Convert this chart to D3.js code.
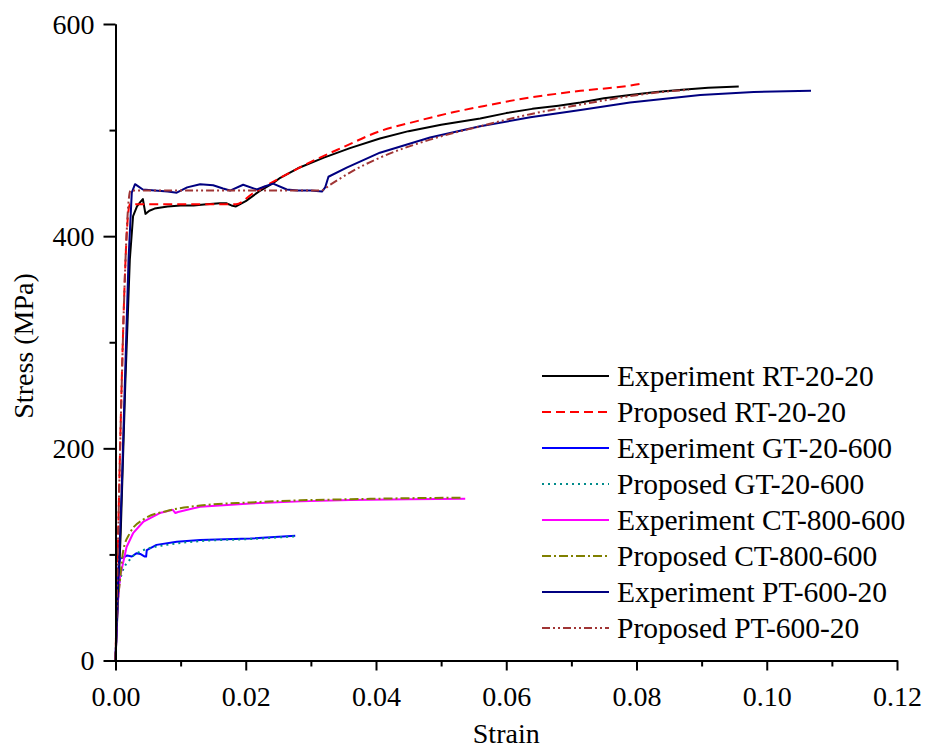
<!DOCTYPE html>
<html>
<head>
<meta charset="utf-8">
<script src="https://cdn.jsdelivr.net/npm/d3@7"></script>
<style>
  html, body { margin: 0; padding: 0; background: #fff; }
  svg text { font-family: "Liberation Serif", "DejaVu Serif", "Noto Serif", serif; }
</style>
</head>
<body>
<svg id="chart" width="929" height="752"></svg>
<script>
// Stress-strain curves: measured tests and the proposed model
const xTicks = [0, 0.02, 0.04, 0.06, 0.08, 0.10, 0.12];
const xMinorTicks = [0.01, 0.03, 0.05, 0.07, 0.09, 0.11];
const yTicks = [0, 200, 400, 600];
const yMinorTicks = [100, 300, 500];

// [strain, stress (MPa)]
const expRT = [[0,0],[0.0008,120],[0.0015,260],[0.0022,378],[0.0027,419],[0.0033,428],[0.0038,432],[0.0042,435],
  [0.0044,428],[0.0046,421],[0.0052,424],[0.006,426],[0.008,428],[0.010,429],[0.012,429],[0.014,430],[0.016,431],
  [0.017,431],[0.0178,429],[0.0185,428],[0.020,433],[0.022,442],[0.0242,450],[0.0253,455],[0.028,464],[0.032,474],
  [0.036,483],[0.0406,492],[0.045,499],[0.050,505],[0.056,511],[0.060,516],[0.064,520],[0.068,523],[0.0714,526],
  [0.075,530],[0.079,533],[0.083,536],[0.087,538],[0.091,540],[0.0957,541]];
const propRT = [[0,0],[0.0022,430],[0.0185,430],[0.021,440],[0.0253,455],[0.030,470],[0.035,484],[0.0406,499],
  [0.046,508],[0.052,517],[0.056,522],[0.062,529],[0.0714,537],[0.079,542],[0.0809,544]];
const expGT = [[0,0],[0.0003,60],[0.0005,90],[0.0007,96],[0.0012,97],[0.0018,99],[0.0025,98],[0.0032,101],
  [0.0038,100.5],[0.0045,98],[0.0047,98],[0.0048,104],[0.0063,109],[0.0094,112],[0.013,113.7],[0.0207,115],[0.0276,117.5]];
const propGT = [[0,0],[0.0004,60],[0.001,82.5],[0.0022,95],[0.0043,104],[0.0079,109],[0.013,112.5],[0.0207,114.5],[0.0276,117]];
const expCT = [[0,0],[0.0003,50],[0.0007,79],[0.0017,107],[0.0027,120],[0.0043,131],[0.0068,139],[0.0088,142],
  [0.0092,139],[0.0096,140],[0.013,145],[0.0207,148],[0.0284,150],[0.036,151.4],[0.045,152],[0.0537,152.5]];
const propCT = [[0,0],[0.0002,38],[0.0007,76],[0.0012,104],[0.0022,120],[0.0043,133],[0.0079,141],[0.013,146],
  [0.0207,149],[0.0284,151],[0.036,152],[0.045,153],[0.053,153.5]];
const expPT = [[0,0],[0.001,170],[0.002,378],[0.0025,441],[0.003,449],[0.0035,447],[0.0042,444],[0.006,443],
  [0.008,442],[0.0094,441],[0.011,446],[0.013,449],[0.015,448],[0.0165,445],[0.0176,443],[0.0196,448.5],
  [0.0217,444],[0.023,447],[0.0242,449.5],[0.0263,444],[0.028,443],[0.030,443],[0.0317,442],[0.0322,446],
  [0.0327,456],[0.0355,464.6],[0.0406,478.7],[0.0483,493],[0.056,503.6],[0.0637,512],[0.0714,519],[0.079,526],
  [0.0898,533],[0.098,536],[0.1068,537]];
const propPT = [[0,0],[0.0023,443],[0.0315,443],[0.033,448.6],[0.036,460],[0.0406,474],[0.0483,491],[0.056,503.6],
  [0.0637,515],[0.0714,524],[0.079,532],[0.084,536],[0.088,538]];

const seriesNames = ["Experiment RT-20-20","Proposed RT-20-20","Experiment GT-20-600","Proposed GT-20-600",
  "Experiment CT-800-600","Proposed CT-800-600","Experiment PT-600-20","Proposed PT-600-20"];
const seriesData = [expRT, propRT, expGT, propGT, expCT, propCT, expPT, propPT];
const seriesColors = ["#000000","#ff0000","#0000ff","#008b8b","#ff00ff","#808000","#000080","#a03535"];
const seriesDash = [null, "9,5", null, "2,4", null, "9,3,2,3", null, "8,3,2,3,2,3"];
const seriesSmooth = [false, true, false, true, false, true, false, true];

const serif = '"Liberation Serif", "DejaVu Serif", "Noto Serif", serif';
const svg = d3.select("#chart");
const x = d3.scaleLinear().domain([0, 0.12]).range([115.5, 897]);
const y = d3.scaleLinear().domain([0, 600]).range([660.5, 24]);

// curves
const plot = svg.append("g");
seriesData.forEach((d, i) => {
  const line = d3.line().x(p => x(p[0])).y(p => y(p[1]))
    .curve(seriesSmooth[i] ? d3.curveMonotoneX : d3.curveLinear);
  plot.append("path").datum(d)
    .attr("d", line)
    .attr("fill", "none")
    .attr("stroke", seriesColors[i])
    .attr("stroke-width", 2)
    .attr("stroke-dasharray", seriesDash[i])
    .attr("stroke-linejoin", "round");
});

// axes
const fontSize = 28;
const xAxis = svg.append("g").attr("transform", `translate(0,${y(0)})`)
  .call(d3.axisBottom(x).tickValues(xTicks).tickFormat(d3.format(".2f")).tickSize(10).tickSizeOuter(0));
const xMinor = svg.append("g").attr("transform", `translate(0,${y(0)})`)
  .call(d3.axisBottom(x).tickValues(xMinorTicks).tickFormat("").tickSize(6).tickSizeOuter(0));
const yAxis = svg.append("g").attr("transform", `translate(${x(0)},0)`)
  .call(d3.axisLeft(y).tickValues(yTicks).tickSize(12).tickSizeOuter(0).tickPadding(9));
const yMinor = svg.append("g").attr("transform", `translate(${x(0)},0)`)
  .call(d3.axisLeft(y).tickValues(yMinorTicks).tickFormat("").tickSize(6).tickSizeOuter(0));

[xAxis, xMinor, yAxis, yMinor].forEach(g => {
  g.attr("font-family", serif).attr("font-size", fontSize);
  g.selectAll(".domain").attr("stroke", "#000").attr("stroke-width", 2);
  g.selectAll(".tick line").attr("stroke", "#000").attr("stroke-width", 2);
  g.selectAll(".tick text").attr("fill", "#000");
});
xAxis.selectAll(".tick text").attr("dy", null).attr("y", 45);
yAxis.selectAll(".tick text").attr("dy", "0.33em");

// axis titles
svg.append("text").attr("x", (x(0) + x(0.12)) / 2).attr("y", 743)
  .attr("text-anchor", "middle").attr("font-family", serif).attr("font-size", fontSize).text("Strain");
svg.append("text").attr("transform", "translate(33,346) rotate(-90)")
  .attr("text-anchor", "middle").attr("font-family", serif).attr("font-size", fontSize).text("Stress (MPa)");

// legend
const legend = svg.append("g").attr("font-family", serif).attr("font-size", 29.5);
seriesNames.forEach((name, i) => {
  const ly = 376 + i * 36;
  legend.append("line").attr("x1", 542).attr("x2", 609).attr("y1", ly).attr("y2", ly)
    .attr("stroke", seriesColors[i]).attr("stroke-width", 2)
    .attr("stroke-dasharray", seriesDash[i]);
  legend.append("text").attr("x", 617).attr("y", ly + 10).attr("fill", "#000").text(name);
});
</script>
</body>
</html>
